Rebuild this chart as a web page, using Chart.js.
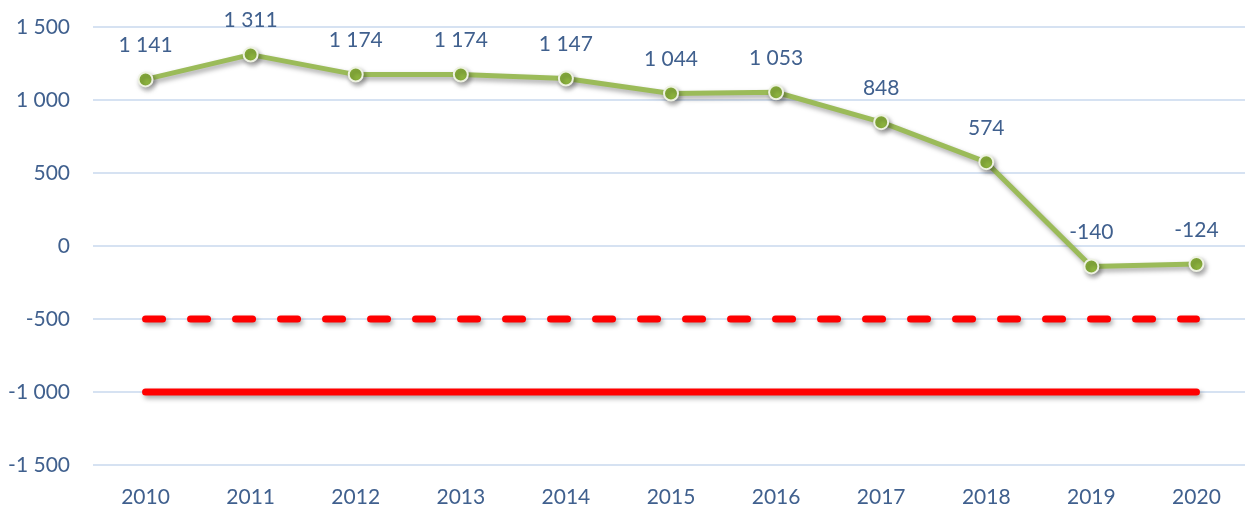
<!DOCTYPE html>
<html>
<head>
<meta charset="utf-8">
<script src="https://cdn.jsdelivr.net/npm/chart.js@4/dist/chart.umd.min.js"></script>
<style>
  html, body { margin: 0; padding: 0; background: #fff; overflow: hidden; }
  canvas { display: block; }
</style>
</head>
<body>
<canvas id="c" width="1258" height="509"></canvas>
<script>
const categories = ['2010','2011','2012','2013','2014','2015','2016','2017','2018','2019','2020'];
const balanceValues = [1141, 1311, 1174, 1174, 1147, 1044, 1053, 848, 574, -140, -124];
const dashedLimit = [-500, -500, -500, -500, -500, -500, -500, -500, -500, -500, -500];
const solidLimit = [-1000, -1000, -1000, -1000, -1000, -1000, -1000, -1000, -1000, -1000, -1000];
const yTicks = [-1500, -1000, -500, 0, 500, 1000, 1500];

const textColor = '#40608E';
const fontFamily = 'Lato, "Open Sans", sans-serif';

function fmt(v) {
  const s = Math.abs(Math.round(v)).toString().replace(/\B(?=(\d{3})+(?!\d))/g, ' ');
  return (v < 0 ? '-' : '') + s;
}

const shadowPlugin = {
  id: 'shadow',
  beforeDatasetsDraw(chart) {
    const ctx = chart.ctx;
    ctx.save();
    ctx.shadowColor = 'rgba(0,0,0,0.35)';
    ctx.shadowBlur = 5;
    ctx.shadowOffsetX = 2;
    ctx.shadowOffsetY = 3;
  },
  afterDatasetsDraw(chart) {
    chart.ctx.restore();
  }
};

const labelPlugin = {
  id: 'valueLabels',
  afterDraw(chart) {
    const ctx = chart.ctx;
    const meta = chart.getDatasetMeta(2);
    const data = chart.data.datasets[2].data;
    ctx.save();
    ctx.font = '21px ' + fontFamily;
    ctx.fillStyle = textColor;
    ctx.textAlign = 'center';
    ctx.textBaseline = 'middle';
    meta.data.forEach((pt, i) => {
      ctx.fillText(fmt(data[i]), pt.x, pt.y - 34);
    });
    ctx.restore();
  }
};

new Chart(document.getElementById('c'), {
  type: 'line',
  data: {
    labels: categories,
    datasets: [
      {
        data: solidLimit,
        borderColor: '#FF0000',
        borderWidth: 7,
        borderCapStyle: 'round',
        pointRadius: 0,
        fill: false
      },
      {
        data: dashedLimit,
        borderColor: '#FF0000',
        borderWidth: 7,
        borderCapStyle: 'round',
        borderDash: [17, 28],
        pointRadius: 0,
        fill: false
      },
      {
        data: balanceValues,
        borderColor: '#9BBB59',
        borderWidth: 5,
        borderJoinStyle: 'round',
        pointRadius: 7,
        pointBorderWidth: 2,
        pointBackgroundColor: '#8DB43E',
        pointBorderColor: '#EEF2E2',
        fill: false,
        tension: 0
      }
    ]
  },
  options: {
    responsive: false,
    animation: false,
    events: [],
    layout: { padding: { top: 27, left: 0, right: 0, bottom: 0 } },
    plugins: { legend: { display: false }, tooltip: { enabled: false } },
    scales: {
      x: {
        offset: true,
        grid: { display: false, drawTicks: false, offset: true },
        border: { display: false },
        ticks: {
          color: textColor,
          font: { family: fontFamily, size: 21 },
          padding: 20,
          maxRotation: 0
        },
        afterFit(scale) { scale.height = 44; scale.paddingLeft = 0; scale.paddingRight = 0; }
      },
      y: {
        min: -1500,
        max: 1500,
        grid: { color: '#D6E2F2', lineWidth: 2, drawTicks: false },
        border: { display: false },
        afterBuildTicks(scale) { scale.ticks = yTicks.map(v => ({ value: v })); },
        ticks: {
          color: textColor,
          font: { family: fontFamily, size: 21 },
          padding: 23,
          callback: (v) => fmt(v)
        },
        afterFit(scale) { scale.width = 93; scale.paddingTop = 0; scale.paddingBottom = 0; }
      }
    }
  },
  plugins: [shadowPlugin, labelPlugin]
});
</script>
</body>
</html>
